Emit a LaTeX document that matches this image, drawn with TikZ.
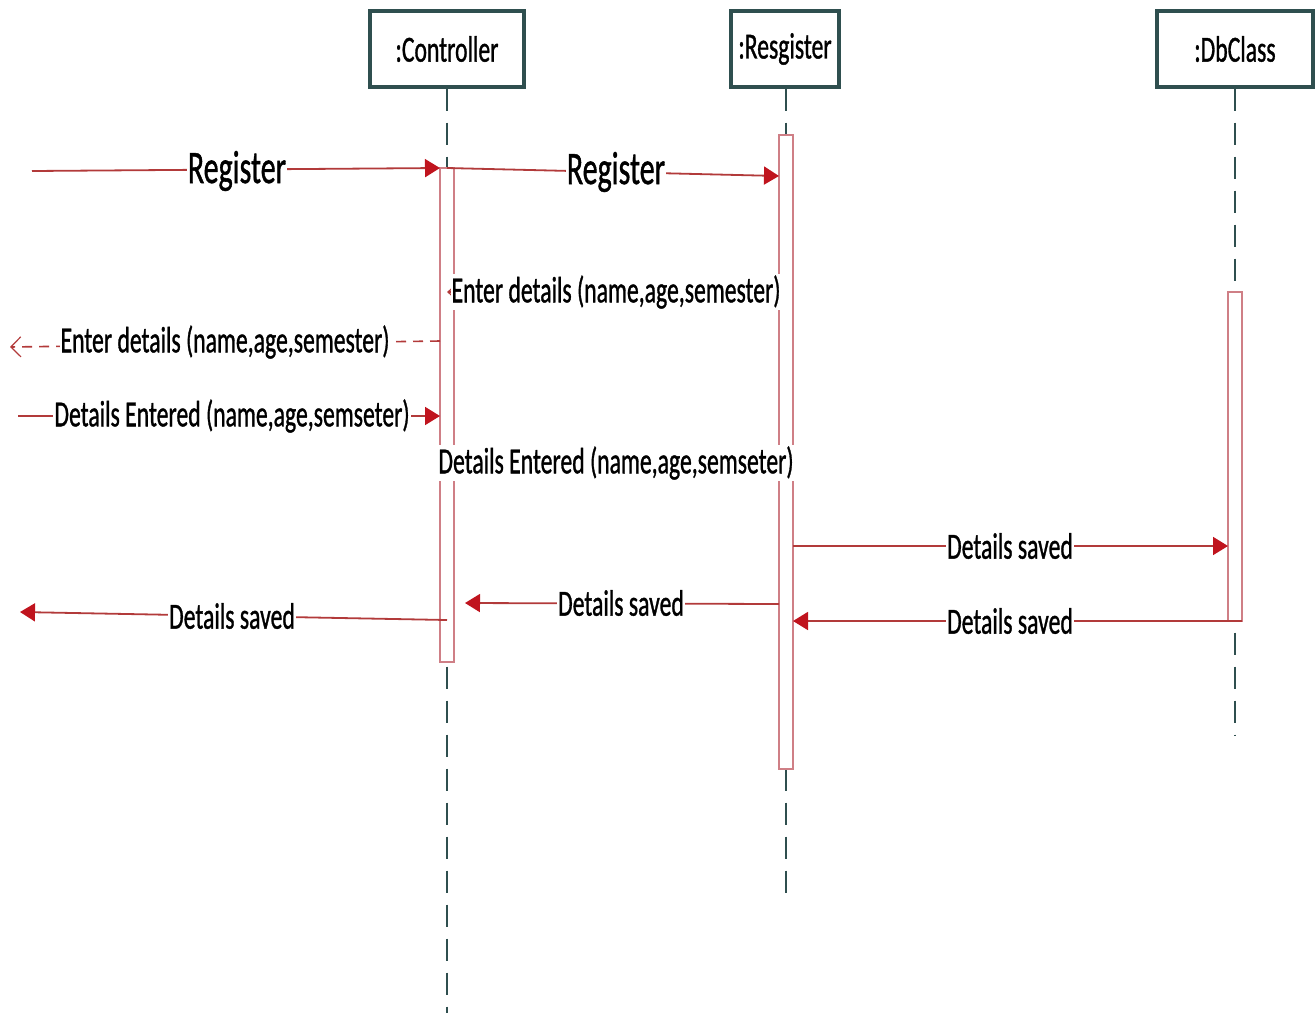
\documentclass[tikz,border=0pt]{standalone}
\usepackage{fontspec}
\setmainfont{Carlito}[FakeBold=1.2]
\usetikzlibrary{arrows.meta}
\definecolor{msgred}{HTML}{B23A3A}
\definecolor{tipred}{HTML}{C0141E}
\definecolor{headline}{HTML}{2F4F4F}
\definecolor{barred}{HTML}{CF7F86}
\newcommand\tall[1]{\scalebox{1}[1.55]{#1}}

\begin{document}
\begin{tikzpicture}[x=1pt,y=-1pt,
  head/.style={draw=headline, line width=3.2pt, fill=white, minimum height=76pt,
    inner sep=0pt, font=\fontsize{23.7}{28}\selectfont},
  lifeline/.style={draw=headline, line width=1.5pt, dash pattern=on 22pt off 12pt},
  actbar/.style={draw=barred, line width=1.2pt, fill=white, minimum width=14pt, inner sep=0pt},
  msg/.style={draw=msgred, line width=1.8pt, -{Triangle[length=15pt,width=18pt,fill=tipred,color=tipred]}},
  retmsg/.style={draw=msgred, line width=1.6pt, dash pattern=on 10pt off 7pt,
    -{Straight Barb[length=10pt,width=20pt,line width=1.2pt]}},
  small/.style={fill=white, inner sep=1pt, font=\fontsize{23.7}{28}\selectfont},
  big/.style={fill=white, inner sep=1pt, font=\fontsize{30}{36}\selectfont}
]
\useasboundingbox (0,0) rectangle (1315,1013);

% object heads
\node[head, minimum width=154pt] (ctrl) at (447,49) {\tall{:Controller}};
\node[head, minimum width=108pt] (reg)  at (785,49) {\tall{:Resgister}};
\node[head, minimum width=156pt] (db)   at (1235,49) {\tall{:DbClass}};

% lifelines
\coordinate (ctrlEnd) at (447,1013);
\coordinate (regEnd)  at (786,897);
\coordinate (dbEnd)   at (1235,736);
\draw[lifeline] (ctrl.south) -- (ctrlEnd);
\draw[lifeline] (reg.south -| regEnd) -- (regEnd);
\draw[lifeline] (db.south) -- (dbEnd);

% activation bars
\node[actbar, minimum height=494pt] (actC) at (447,415) {};
\node[actbar, minimum height=634pt] (actR) at (786,452) {};
\node[actbar, minimum height=329pt] (actD) at (1235,456.5) {};

% message end points
\coordinate (in1)  at (32,171);
\coordinate (c1)   at (440,168);
\coordinate (c2)   at (447,168);
\coordinate (r2)   at (779,176);
\coordinate (r3)   at (779,292);
\coordinate (c3)   at (447,292);
\coordinate (c4)   at (440,341);
\coordinate (out4) at (10,347);
\coordinate (in5)  at (18,416);
\coordinate (c5)   at (440,416);
\coordinate (r7)   at (793,546);
\coordinate (d7)   at (1228,546);
\coordinate (d8)   at (1242,621);
\coordinate (r8)   at (793,621);
\coordinate (r9)   at (779,604);
\coordinate (c9)   at (465,603);
\coordinate (c10)  at (447,620);
\coordinate (out10) at (20,612);

% messages
\draw[msg] (in1) -- (c1);
\draw[msg] (c2) -- (r2);
\draw[msgred, line width=1.2pt, -{Straight Barb[length=4pt,width=7pt]}] (r3) -- (c3);
\draw[retmsg] (c4) -- (out4);
\draw[msg] (in5) -- (c5);
\draw[msg] (r7) -- (d7);
\draw[msg] (d8) -- (r8);
\draw[msg] (r9) -- (c9);
\draw[msg] (c10) -- (out10);

% message labels
\node[big]   (l1)  at (237,171) {\tall{Register}};
\node[big]   (l2)  at (616,172) {\tall{Register}};
\node[small] (l3)  at (616,292) {\tall{Enter details (name,age,semester)}};
\node[small] (l4)  at (225,342) {\tall{Enter details (name,age,semester)}};
\node[small] (l5)  at (232,416) {\tall{Details Entered (name,age,semseter)}};
\node[small] (l6)  at (616,463) {\tall{Details Entered (name,age,semseter)}};
\node[small] (l7)  at (1010,546) {\tall{Details saved}};
\node[small] (l8)  at (1010,621) {\tall{Details saved}};
\node[small] (l9)  at (621,603) {\tall{Details saved}};
\node[small] (l10) at (232,616) {\tall{Details saved}};
\end{tikzpicture}
\end{document}
